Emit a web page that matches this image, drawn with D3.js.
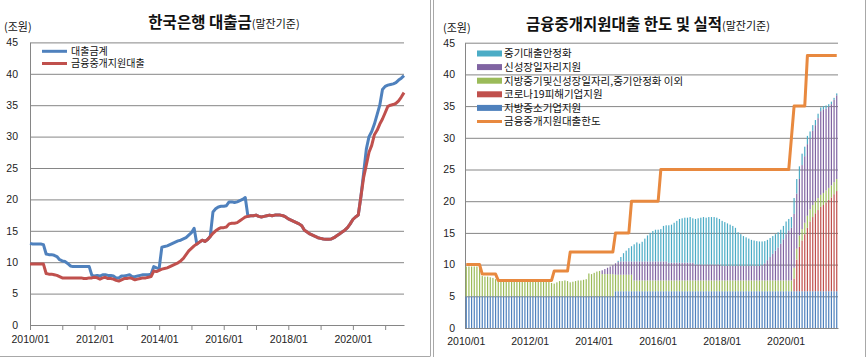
<!DOCTYPE html>
<html><head><meta charset="utf-8">
<script src="https://cdn.jsdelivr.net/npm/d3@7"></script>
<style>body{margin:0;background:#fff} svg{display:block}</style>
</head><body><svg id="c" width="867" height="357"></svg>
<script>
// ---------- categories ----------
const months = d3.timeMonth.range(new Date(2010,0,1), new Date(2021,8,1)).map(d3.timeFormat("%Y/%m")); // 2010/01 .. 2021/08
const xTickLabels = ["2010/01","2012/01","2014/01","2016/01","2018/01","2020/01"];
const yTicks = [0,5,10,15,20,25,30,35,40,45];

// ---------- left chart: 한국은행 대출금 ----------
const loanTotal = [13.0,12.9,12.9,12.9,12.9,12.8,11.3,11.2,11.2,11.1,
 10.9,10.4,10.2,10.1,9.8,9.4,9.3,9.3,9.3,9.3,
 9.3,9.3,9.3,7.9,7.8,7.9,7.8,8.0,8.0,7.9,
 7.9,7.8,7.5,7.5,7.8,7.8,7.9,8.0,7.7,7.7,
 7.8,7.9,8.0,8.0,8.0,8.1,9.3,9.1,9.0,12.4,
 12.5,12.6,12.8,13.0,13.2,13.4,13.5,13.7,13.9,14.3,
 14.7,15.4,12.9,13.2,13.5,13.3,13.6,14.1,18.0,18.5,
 18.8,18.9,18.9,19.0,19.6,19.6,19.5,19.6,19.8,20.0,
 20.3,17.3,17.4,17.4,17.5,17.3,17.2,17.3,17.4,17.5,
 17.4,17.5,17.5,17.5,17.4,17.2,16.9,16.7,16.5,16.3,
 16.1,15.8,15.1,14.8,14.5,14.3,14.1,13.9,13.8,13.7,
 13.65,13.65,13.7,13.9,14.2,14.5,14.8,15.1,15.5,16.1,
 16.8,17.2,17.5,20.5,24.2,28.0,30.0,30.8,32.0,33.5,
 35.0,37.5,38.0,38.2,38.3,38.4,38.6,39.0,39.3,39.7];
const intermLoan = [9.7,9.7,9.7,9.7,9.7,9.7,8.2,8.1,8.1,8.0,
 7.9,7.7,7.5,7.5,7.5,7.5,7.5,7.5,7.5,7.5,
 7.4,7.4,7.5,7.5,7.6,7.5,7.3,7.5,7.6,7.4,
 7.4,7.3,7.1,7.0,7.2,7.4,7.4,7.5,7.4,7.2,
 7.3,7.4,7.5,7.5,7.6,7.7,8.6,8.5,8.7,8.9,
 9.0,9.1,9.3,9.5,9.7,9.9,10.2,10.6,11.2,11.8,
 12.2,12.6,12.9,13.2,13.5,13.3,13.6,14.1,14.6,15.0,
 15.3,15.5,15.5,15.6,16.1,16.2,16.2,16.3,16.6,16.9,
 17.2,17.3,17.4,17.4,17.5,17.3,17.2,17.3,17.4,17.5,
 17.4,17.5,17.5,17.5,17.4,17.2,16.9,16.7,16.5,16.3,
 16.1,15.8,15.1,14.8,14.5,14.3,14.1,13.9,13.8,13.7,
 13.65,13.65,13.7,13.9,14.2,14.5,14.8,15.1,15.5,16.1,
 16.8,17.2,17.5,20.5,23.5,25.5,27.5,28.6,30.3,31.0,
 32.0,32.8,33.8,34.8,35.0,35.1,35.3,35.7,36.3,37.0];

// ---------- right chart: 금융중개지원대출 한도 및 실적 (stacked bars, bottom to top) ----------
const regionalSME = [5,5,5,5,5,5,5,5,5,5, 5,5,5,5,5,5,5,5,5,5, 5,5,5,5,5,5,5,5,5,5, 5,5,5,5,5,5,5,5,5,5,
 5,5,5,5,5,5,5,5,5,5, 5,5,5,5,5,5,5.8,5.8,5.8,5.8, 5.8,5.8,5.8,5.8,5.8,5.8,5.8,5.8,5.8,5.8,
 5.8,5.8,5.8,5.8,5.8,5.8,5.8,5.8,5.8,5.8, 5.8,5.8,5.8,5.8,5.8,5.8,5.8,5.8,5.8,5.8, 5.8,5.8,5.8,5.8,5.8,5.8,5.8,5.8,5.8,5.8,
 5.8,5.8,5.8,5.8,5.8,5.8,5.8,5.8,5.8,5.8, 5.8,5.8,5.8,5.8,5.8,5.8,5.8,5.8,5.8,5.8, 5.8,5.8,5.8,5.8,5.8,5.8,5.8,5.8,5.8,5.8,
 5.8,5.8,5.8,5.8,5.8,5.8,5.8,5.8,5.8,5.8];
const covid = [0,0,0,0,0,0,0,0,0,0, 0,0,0,0,0,0,0,0,0,0, 0,0,0,0,0,0,0,0,0,0, 0,0,0,0,0,0,0,0,0,0,
 0,0,0,0,0,0,0,0,0,0, 0,0,0,0,0,0,0,0,0,0, 0,0,0,0,0,0,0,0,0,0, 0,0,0,0,0,0,0,0,0,0,
 0,0,0,0,0,0,0,0,0,0, 0,0,0,0,0,0,0,0,0,0, 0,0,0,0,0,0,0,0,0,0, 0,0,0,0,0,0,0,0,0,0,
 0,0,0,2.0,5.0,7.0,8.0,9.0,10.0,11.0, 11.7,12.3,12.8,13.3,13.6,14.0,14.4,14.8,15.3,15.8];
const otherProg = [4.7,4.7,4.7,4.7,4.7,4.7,3.2,3.1,3.1,3.0,
 2.9,2.7,2.5,2.5,2.5,2.5,2.5,2.5,2.5,2.5,
 2.4,2.4,2.5,2.5,2.6,2.5,2.3,2.5,2.6,2.4,
 2.4,2.3,2.1,2.0,2.2,2.4,2.4,2.5,2.4,2.2,
 2.3,2.4,2.5,2.5,2.6,2.7,3.6,3.5,3.7,3.9,
 4.0,3.5,3.5,3.5,3.5,3.5,2.6,2.6,2.6,2.6,
 2.6,2.6,2.6,1.7,1.7,1.7,1.7,1.7,1.7,1.7,
 1.7,1.7,1.7,1.7,1.7,1.7,1.7,1.7,1.7,1.7,
 1.7,1.7,1.7,1.7,1.7,1.7,1.7,1.7,1.7,1.7,
 1.7,1.7,1.7,1.7,1.7,1.7,1.7,1.7,1.7,1.7,
 1.7,1.7,1.7,1.7,1.7,1.7,1.7,1.7,1.7,1.7,
 1.7,1.7,1.7,1.7,1.7,1.7,1.7,1.7,1.7,1.7,
 1.7,1.7,1.7,1.7,1.7,1.8,1.8,1.8,1.9,1.9,
 1.9,1.9,1.9,1.9,1.9,1.9,1.9,1.9,1.9,1.9];
const newGrowth = [0,0,0,0,0,0,0,0,0,0, 0,0,0,0,0,0,0,0,0,0, 0,0,0,0,0,0,0,0,0,0, 0,0,0,0,0,0,0,0,0,0,
 0,0,0,0,0,0,0,0,0,0,
 0,0.6,0.8,1.0,1.2,1.4,1.8,2.0,2.1,2.1,
 2.1,2.1,2.1,3.0,3.0,3.0,3.0,3.0,3.0,3.0,
 3.0,3.0,3.0,3.0,3.0,3.0,2.8,2.8,2.8,2.8,
 2.8,2.8,2.8,2.8,2.8,2.8,2.5,2.5,2.5,2.5,
 2.5,2.5,2.5,2.5,2.5,2.5,2.3,2.3,2.3,2.3,
 2.3,2.3,2.3,2.3,2.3,2.3,2.3,2.3,2.3,2.3,
 2.3,2.4,2.7,3.2,3.7,4.2,4.7,5.2,5.8,6.5,
 7.3,7.9,8.3,8.5,8.7,8.9,10.1,10.5,11.3,11.2,
 11.7,12.0,12.6,13.2,13.2,12.9,12.8,12.8,13.0,13.2];
const smeStab = [0,0,0,0,0,0,0,0,0,0, 0,0,0,0,0,0,0,0,0,0, 0,0,0,0,0,0,0,0,0,0, 0,0,0,0,0,0,0,0,0,0,
 0,0,0,0,0,0,0,0,0,0,
 0,0,0,0,0,0,0,0.2,0.7,1.3,
 1.7,2.1,2.4,2.7,3.0,2.8,3.1,3.6,4.1,4.5,
 4.8,5.0,5.0,5.1,5.6,5.7,5.9,6.0,6.3,6.6,
 6.9,7.0,7.1,7.1,7.2,7.0,7.2,7.3,7.4,7.5,
 7.4,7.5,7.5,7.5,7.4,7.2,7.1,6.9,6.7,6.5,
 6.3,6.0,5.3,5.0,4.7,4.5,4.3,4.1,4.0,3.9,
 3.85,3.75,3.5,3.2,3.0,2.8,2.6,2.4,2.2,2.1,
 2.0,1.8,1.7,2.5,2.3,2.0,1.8,1.5,1.3,1.1,
 0.9,0.8,0.7,0.6,0.5,0.5,0.4,0.4,0.3,0.3];
const limit = [10,10,10,10,10,10,8.5,8.5,8.5,8.5,
 8.5,8.5,7.5,7.5,7.5,7.5,7.5,7.5,7.5,7.5,
 7.5,7.5,7.5,7.5,7.5,7.5,7.5,7.5,7.5,7.5,
 7.5,7.5,7.5,9,9,9,9,9,9,12,
 12,12,12,12,12,12,12,12,12,12,
 12,12,12,12,12,12,15,15,15,15,
 15,15,20,20,20,20,20,20,20,20,
 20,20,20,25,25,25,25,25,25,25,
 25,25,25,25,25,25,25,25,25,25,
 25,25,25,25,25,25,25,25,25,25,
 25,25,25,25,25,25,25,25,25,25,
 25,25,25,25,25,25,25,25,25,25,
 25,25,30,35,35,35,35,35,43,43,
 43,43,43,43,43,43,43,43,43,43];

const barSeries = [
  {key:"regionalSME", name:"지방중소기업지원", color:"#4f81bd", values:regionalSME},
  {key:"covid", name:"코로나19피해기업지원", color:"#c0504d", values:covid},
  {key:"otherProg", name:"지방중기및신성장일자리,중기안정화 이외", color:"#9bbb59", values:otherProg},
  {key:"newGrowth", name:"신성장일자리지원", color:"#8064a2", values:newGrowth},
  {key:"smeStab", name:"중기대출안정화", color:"#4bacc6", values:smeStab}
];
const limitColor = "#e8893f";

// ---------- drawing ----------
const svg = d3.select("#c");
const KR = "'Noto Sans CJK KR','Noto Sans',sans-serif";
const NUM = "'Liberation Sans',Arial,sans-serif";
const gridC = "#868686";

// panel borders
const border = "#a8a8a8";
svg.append("line").attr("x1",430.5).attr("x2",430.5).attr("y1",0).attr("y2",356).attr("stroke",border);
svg.append("line").attr("x1",0).attr("x2",430.5).attr("y1",356.5).attr("y2",356.5).attr("stroke",border);
svg.append("line").attr("x1",433.5).attr("x2",433.5).attr("y1",0).attr("y2",357).attr("stroke",border);
svg.append("line").attr("x1",865.5).attr("x2",865.5).attr("y1",0).attr("y2",357).attr("stroke",border);

function styleAxis(g){
  g.attr("font-family",NUM).attr("font-size",10.5);
  g.selectAll("text").attr("fill","#222");
  g.selectAll("line").attr("stroke",gridC);
  g.select(".domain").attr("stroke",gridC);
}

// ===== LEFT =====
const xL = d3.scalePoint().domain(months).range([30,404]);
const yL = d3.scaleLinear().domain([0,45]).range([325,42.4]);

svg.append("g").attr("transform","translate(30,0)")
  .call(d3.axisLeft(yL).tickValues(yTicks).tickSize(-374).tickSizeOuter(0).tickPadding(12).tickFormat(d3.format("d")))
  .call(styleAxis);
svg.append("g").attr("transform","translate(0,325)")
  .call(d3.axisBottom(xL).tickValues(months.filter((m,i)=>i%12===0)).tickSize(5).tickSizeOuter(0).tickPadding(6)
        .tickFormat(m => xTickLabels.includes(m) ? m : ""))
  .call(styleAxis);

const lineL = d3.line().x((d,i)=>xL(months[i])).y(d=>yL(d));
svg.append("path").attr("d",lineL(loanTotal)).attr("fill","none").attr("stroke","#4f81bd").attr("stroke-width",3).attr("stroke-linejoin","round");
svg.append("path").attr("d",lineL(intermLoan)).attr("fill","none").attr("stroke","#c0504d").attr("stroke-width",3).attr("stroke-linejoin","round");

// left title
const t1 = svg.append("text").attr("x",224).attr("y",28).attr("text-anchor","middle").attr("font-family",KR).attr("fill","#111");
t1.append("tspan").attr("font-size",15.5).attr("font-weight","bold").text("한국은행 대출금");
t1.append("tspan").attr("font-size",11).text("(말잔기준)");
svg.append("text").attr("x",4).attr("y",31).attr("font-family",KR).attr("font-size",11).attr("fill","#111").text("(조원)");

// left legend
const legL = [{name:"대출금계",color:"#4f81bd"},{name:"금융중개지원대출",color:"#c0504d"}];
legL.forEach((d,i)=>{
  const y = 51.3 + i*12.2;
  svg.append("line").attr("x1",42).attr("x2",67).attr("y1",y).attr("y2",y).attr("stroke",d.color).attr("stroke-width",3);
  svg.append("text").attr("x",71).attr("y",y+3.6).attr("font-family",KR).attr("font-size",10).attr("fill","#111").text(d.name);
});

// ===== RIGHT =====
const xR = d3.scaleBand().domain(months).range([465,838]).paddingInner(0.55).paddingOuter(0.25);
const yR = d3.scaleLinear().domain([0,45]).range([328,42.7]);

svg.append("g").attr("transform","translate(465,0)")
  .call(d3.axisLeft(yR).tickValues(yTicks).tickSize(-373).tickSizeOuter(0).tickPadding(10).tickFormat(d3.format("d")))
  .call(styleAxis);
svg.append("g").attr("transform","translate(0,328)")
  .call(d3.axisBottom(xR).tickValues(xTickLabels).tickSize(0).tickSizeOuter(0).tickPadding(10))
  .call(styleAxis);

const rows = months.map((m,i)=>{ const r={month:m}; barSeries.forEach(s=>r[s.key]=s.values[i]); return r; });
const stacked = d3.stack().keys(barSeries.map(s=>s.key))(rows);
const bw = xR.bandwidth();
stacked.forEach((layer,k)=>{
  svg.append("g").attr("fill",barSeries[k].color)
    .selectAll("rect").data(layer).join("rect")
    .attr("x",d=>xR(d.data.month)).attr("width",bw)
    .attr("y",d=>yR(d[1])).attr("height",d=>Math.max(0,yR(d[0])-yR(d[1])));
});
const lineR = d3.line().x((d,i)=>xR(months[i])+bw/2).y(d=>yR(d));
svg.append("path").attr("d",lineR(limit)).attr("fill","none").attr("stroke",limitColor).attr("stroke-width",3).attr("stroke-linejoin","round");

// right title
const t2 = svg.append("text").attr("x",648).attr("y",29.5).attr("text-anchor","middle").attr("font-family",KR).attr("fill","#111");
t2.append("tspan").attr("font-size",15.5).attr("font-weight","bold").text("금융중개지원대출 한도 및 실적");
t2.append("tspan").attr("font-size",11).text("(말잔기준)");
svg.append("text").attr("x",443).attr("y",32).attr("font-family",KR).attr("font-size",11).attr("fill","#111").text("(조원)");

// right legend
const legR = barSeries.slice().reverse();
legR.forEach((d,i)=>{
  const y = 53.5 + i*13.6;
  svg.append("rect").attr("x",477).attr("y",y-3).attr("width",25).attr("height",6).attr("fill",d.color);
  svg.append("text").attr("x",504).attr("y",y+3.8).attr("font-family",KR).attr("font-size",10.5).attr("fill","#111").text(d.name);
});
{
  const y = 53.5 + 5*13.6;
  svg.append("line").attr("x1",477).attr("x2",502).attr("y1",y).attr("y2",y).attr("stroke",limitColor).attr("stroke-width",3);
  svg.append("text").attr("x",504).attr("y",y+3.8).attr("font-family",KR).attr("font-size",10.5).attr("fill","#111").text("금융중개지원대출한도");
}
</script></body></html>
